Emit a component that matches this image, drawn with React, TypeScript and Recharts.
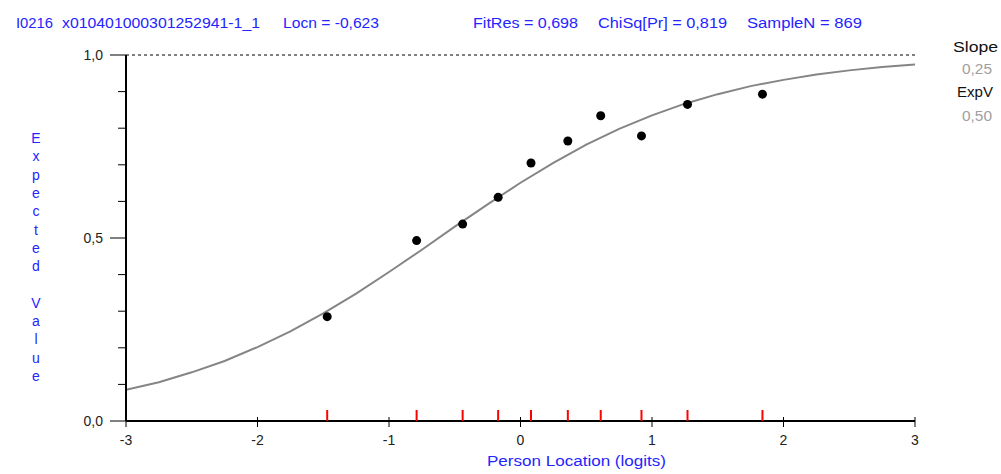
import React from "react";
import {
  ComposedChart,
  Line,
  Scatter,
  XAxis,
  YAxis,
  ReferenceLine,
} from "recharts";

/* Item characteristic curve: Person Location (logits) vs Expected Value */
const curveX = [
  -3, -2.75, -2.5, -2.25, -2, -1.75, -1.5, -1.25, -1, -0.75, -0.5, -0.25, 0,
  0.25, 0.5, 0.75, 1, 1.25, 1.5, 1.75, 2, 2.25, 2.5, 2.75, 3,
];
const curveY = [
  0.085, 0.106, 0.133, 0.164, 0.202, 0.245, 0.294, 0.348, 0.407, 0.468, 0.531,
  0.592, 0.651, 0.705, 0.755, 0.798, 0.835, 0.867, 0.893, 0.915, 0.932, 0.947,
  0.958, 0.967, 0.974,
];

/* observed class-interval means */
const obsX = [-1.47, -0.79, -0.44, -0.17, 0.08, 0.36, 0.61, 0.92, 1.27, 1.84];
const obsY = [0.285, 0.493, 0.538, 0.611, 0.705, 0.765, 0.834, 0.779, 0.865, 0.893];

const xTicks = [-3, -2, -1, 0, 1, 2, 3];
const yTicks = [0, 0.1, 0.2, 0.3, 0.4, 0.5, 0.6, 0.7, 0.8, 0.9, 1.0];
const yLabelled = [0, 0.5, 1];

const titleParts = [
  { text: "I0216", x: 16, len: 37 },
  { text: "x010401000301252941-1_1", x: 62, len: 198 },
  { text: "Locn = -0,623", x: 283, len: 96 },
  { text: "FitRes = 0,698", x: 473, len: 105 },
  { text: "ChiSq[Pr] = 0,819", x: 598, len: 129 },
  { text: "SampleN = 869", x: 747, len: 115 },
];
const sideParts = [
  { text: "Slope", x: 953, y: 52, len: 45, color: "#111" },
  { text: "0,25", x: 962, y: 74, len: 30, color: "#a0a0a0" },
  { text: "ExpV", x: 957, y: 97, len: 36, color: "#111" },
  { text: "0,50", x: 962, y: 121, len: 30, color: "#a0a0a0" },
];
const yTitle = "Expected Value";
const xTitle = "Person Location (logits)";

const FONT = "'Liberation Sans', Arial, sans-serif";
const BLUE = "#2424ff";
const TEXT = "#222";

const curveData = curveX.map((x, i) => ({ x, y: curveY[i] }));
const obsData = obsX.map((x, i) => ({ x, y: obsY[i] }));
const rugData = obsX.map((x) => ({ x, y: 0 }));

function YTick(props: any) {
  const { x, y, payload } = props;
  const v = payload.value as number;
  const major = yLabelled.some((l) => Math.abs(l - v) < 1e-6);
  return (
    <g>
      <line x1={x - (major ? 16 : 8)} x2={x} y1={y} y2={y} stroke="#000" strokeWidth={1} />
      {major && (
        <text x={x - 23} y={y + 5} textAnchor="end" fontSize={14} fill={TEXT} fontFamily={FONT}>
          {v.toFixed(1).replace(".", ",")}
        </text>
      )}
    </g>
  );
}

function XTick(props: any) {
  const { x, y, payload } = props;
  return (
    <g>
      <line x1={x} x2={x} y1={y - 4} y2={y + 6} stroke="#000" strokeWidth={1} />
      <text x={x} y={y + 24} textAnchor="middle" fontSize={14} fill={TEXT} fontFamily={FONT}>
        {String(payload.value)}
      </text>
    </g>
  );
}

function RugTick(props: any) {
  const { cx, cy } = props;
  return <line x1={cx} x2={cx} y1={cy - 11} y2={cy} stroke="#ff0000" strokeWidth={2} />;
}

function Dot(props: any) {
  const { cx, cy } = props;
  return <circle cx={cx} cy={cy} r={4.5} fill="#000" />;
}

export default function App() {
  return (
    <div
      style={{
        position: "absolute",
        left: 0,
        top: 0,
        width: 1001,
        height: 474,
        background: "#fff",
      }}
    >
      <ComposedChart
        width={1001}
        height={474}
        margin={{ top: 55, right: 86, bottom: 23, left: 0 }}
      >
        <XAxis
          type="number"
          dataKey="x"
          domain={[-3, 3]}
          ticks={xTicks}
          interval={0}
          allowDataOverflow
          height={30}
          tickSize={0}
          tickMargin={0}
          tickLine={false}
          tick={<XTick />}
          axisLine={{ stroke: "#000", strokeWidth: 2 }}
        />
        <YAxis
          type="number"
          dataKey="y"
          domain={[0, 1]}
          ticks={yTicks}
          interval={0}
          allowDataOverflow
          width={126}
          tickSize={0}
          tickMargin={0}
          tickLine={false}
          tick={<YTick />}
          axisLine={{ stroke: "#000", strokeWidth: 2 }}
        />
        <ReferenceLine y={1} stroke="#000" strokeWidth={1} strokeDasharray="3 3" />
        <Line
          data={curveData}
          dataKey="y"
          type="linear"
          stroke="#858585"
          strokeWidth={2}
          dot={false}
          activeDot={false}
          isAnimationActive={false}
        />
        <Scatter data={rugData} dataKey="y" shape={<RugTick />} isAnimationActive={false} />
        <Scatter data={obsData} dataKey="y" shape={<Dot />} isAnimationActive={false} />
      </ComposedChart>

      <svg
        width={1001}
        height={474}
        style={{ position: "absolute", left: 0, top: 0, pointerEvents: "none" }}
        fontFamily={FONT}
      >
        {titleParts.map((p) => (
          <text
            key={p.text}
            x={p.x}
            y={28}
            fontSize={14}
            fill={BLUE}
            textLength={p.len}
            lengthAdjust="spacingAndGlyphs"
          >
            {p.text}
          </text>
        ))}
        {sideParts.map((p) => (
          <text
            key={p.text}
            x={p.x}
            y={p.y}
            fontSize={14}
            fill={p.color}
            textLength={p.len}
            lengthAdjust="spacingAndGlyphs"
          >
            {p.text}
          </text>
        ))}
        {yTitle.split("").map((ch, i) => (
          <text
            key={i}
            x={36}
            y={143 + i * 18.3}
            fontSize={14}
            fill={BLUE}
            textAnchor="middle"
          >
            {ch}
          </text>
        ))}
        <text x={487} y={466} fontSize={14} fill={BLUE} textLength={179} lengthAdjust="spacingAndGlyphs">
          {xTitle}
        </text>
      </svg>
    </div>
  );
}
